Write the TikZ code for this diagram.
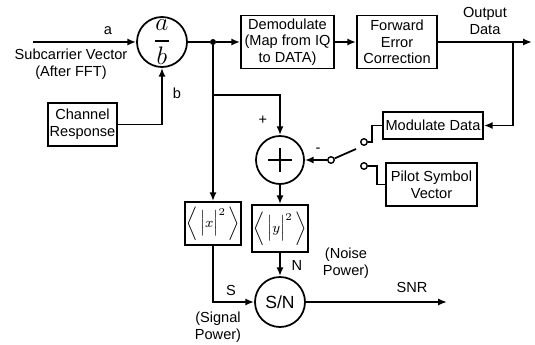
\documentclass[tikz,border=0pt]{standalone}
\usepackage{amsmath}
\usepackage{fontspec}
\setmainfont{Liberation Sans}
\usetikzlibrary{arrows.meta,positioning}
\tikzset{blk/.style={draw,line width=1pt,align=center,font=\fontsize{8.3}{9.5}\selectfont,inner sep=1pt},
 crc/.style={draw,circle,line width=1pt,inner sep=0pt},
 sw/.style={draw,circle,line width=0.8pt,fill=white,inner sep=0pt,minimum size=1.3mm},
 ar/.style={line width=1pt,-{Latex[length=5pt,width=4pt]}},ln/.style={line width=1pt},
 lb/.style={font=\fontsize{8.3}{9.5}\selectfont,align=center,inner sep=0pt}}
\begin{document}
\begin{tikzpicture}[x=0.02cm,y=-0.02cm]
\useasboundingbox (0,0) rectangle (535,345);
\node[crc,minimum size=10mm](div) at (162,42){\Large$\dfrac{a}{b}$};
\node[blk,minimum width=13.8mm,minimum height=8.6mm](chan) at (82.5,124.5){Channel\\Response};
\node[blk,minimum width=18.6mm,minimum height=10.6mm](dem) at (287.5,42){Demodulate\\(Map from IQ\\to DATA)};
\node[blk,minimum width=16mm,minimum height=10.6mm](fec) at (397,42){Forward\\Error\\Correction};
\node[blk,minimum width=20mm,minimum height=5.4mm](mod) at (433,125.5){Modulate Data};
\node[blk,minimum width=18.2mm,minimum height=8.6mm](pil) at (431.5,184.5){Pilot Symbol\\Vector};
\node[crc,minimum size=9.6mm](sum) at (280,160){};
\draw[line width=1.6pt](sum.center) +(-12,0) -- +(12,0) (sum.center) +(0,-12) -- +(0,12);
\node[blk,minimum width=10.4mm,minimum height=8.6mm](xp) at (213,223.5){$\bigg\langle\,\Big|x\Big|^2\,\bigg\rangle$};
\node[blk,minimum width=10.8mm,minimum height=9.4mm](yp) at (280,228.5){$\bigg\langle\,\Big|y\Big|^2\,\bigg\rangle$};
\node[crc,minimum size=10mm,font=\fontsize{10}{10}\selectfont](snr) at (280,302){S/N};
% switch and junctions
\node[circle,fill,inner sep=0pt,minimum size=1.2mm](dot) at (213,42){};
\node[sw](piv) at (331,160){};\node[sw](c1) at (364,142){};\node[sw](c2) at (364,166){};
\coordinate (in) at (33,42);\coordinate (tap) at (513,42);\coordinate (out) at (532,42);
\coordinate (br) at (280,95);\coordinate (arm) at (356,149);\coordinate (snrout) at (447,302);
% labels
\node[lb](la) at (108,31){a};\node[lb](lsub) at (71,64){Subcarrier Vector\\(After FFT)};
\node[lb](lbb) at (177,93){b};\node[lb](lout) at (485,21){Output\\Data};
\node[lb](lplus) at (263,120){+};\node[lb](lminus) at (318,150){-};
\node[lb](ln) at (297,265){N};\node[lb](ls) at (231,290){S};
\node[lb](lnoise) at (346,263){(Noise\\Power)};\node[lb](lsig) at (218,327){(Signal\\Power)};
\node[lb](lsnr) at (412,287){SNR};
\draw[ar](in)--(div);\draw[ar](chan.east)-|(div.south);\draw[ln](div)--(dot);\draw[ar](dot)--(dem);
\draw[ar](dem)--(fec);\draw[ar](fec)--(out);\draw[ar](tap)|-(mod.east);
\draw[ar](dot)|-(br)--(sum.north);\draw[ar](dot)--(xp.north);\draw[ar](sum)--(yp.north);\draw[ar](yp)--(snr.north);
\draw[ar](xp.south)|-(snr.west);\draw[ar](snr)--(snrout);
\draw[ar](piv)--(sum);\draw[ln](piv)--(arm);
\draw[ln](mod.west)--++(-10,0)|-(c1.east);\draw[ln](c2.east)--++(9,0)|-(pil.west);
\end{tikzpicture}
\end{document}
